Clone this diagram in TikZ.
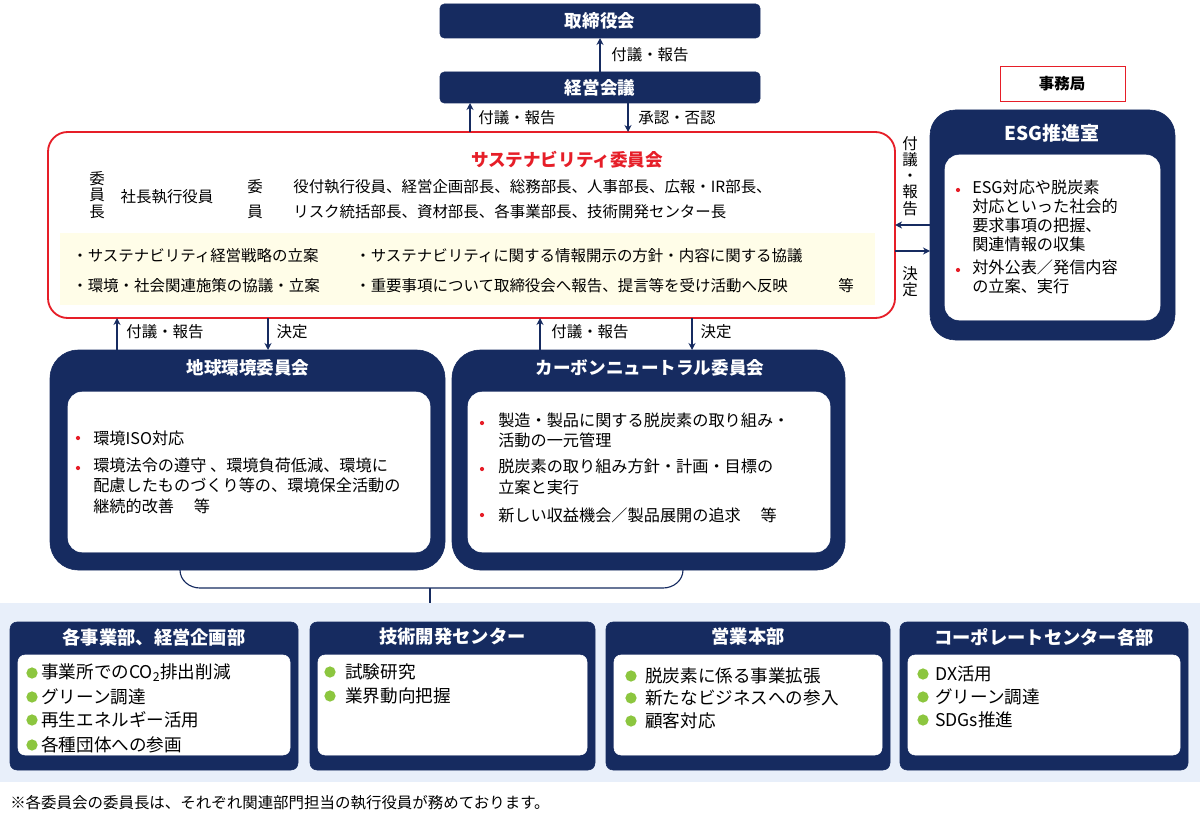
\documentclass[tikz,border=0pt]{standalone}
\usepackage{fontspec}
\setmainfont{Noto Sans CJK JP}
\usetikzlibrary{arrows.meta}
\definecolor{navy}{RGB}{22,43,96}
\definecolor{redline}{RGB}{230,30,40}
\definecolor{paleyellow}{RGB}{255,253,232}
\definecolor{paleblue}{RGB}{232,239,250}
\definecolor{leaf}{RGB}{140,198,63}
\tikzset{
  navybox/.style={fill=navy,draw=navy},
  title/.style={text=white,font=\fontsize{12.5}{14}\selectfont\bfseries},
  txt/.style={anchor=west,inner sep=0pt,font=\fontsize{11}{12}\selectfont},
  midtxt/.style={txt,align=left,anchor=north west,font=\fontsize{11.5}{14.3}\selectfont},
  bottxt/.style={txt,font=\fontsize{12.5}{14}\selectfont},
  lbl/.style={inner sep=1pt,font=\fontsize{11}{12}\selectfont},
  flow/.style={draw=navy,line width=0.9pt,-{Stealth[length=5pt,width=5pt]}},
  redbul/.style={circle,fill=redline,inner sep=0pt,minimum size=3pt},
  greenbul/.style={circle,fill=leaf,inner sep=0pt,minimum size=8pt}
}
\begin{document}
\begin{tikzpicture}[x=0.025cm,y=-0.025cm]
	\useasboundingbox (0,0) rectangle (1200,820);
	
	% top boxes
	\draw[navybox,rounded corners=3pt] (440,4) rectangle (760,38);
	\node[title] (board) at (600,21) {取締役会};
	\draw[navybox,rounded corners=3pt] (440,72) rectangle (760,103);
	\node[title] (mgmt) at (600,88) {経営会議};
	\coordinate (boardb) at (600,38);
	\coordinate (mgmtt) at (600,72);
	\draw[flow] (mgmtt) -- (boardb);
	\node[lbl] at (650,55) {付議・報告};
	
	% sustainability committee
	\draw[draw=redline,line width=1.3pt,fill=white,rounded corners=14pt] (48,132) rectangle (895,318);
	\fill[paleyellow] (60,233) rectangle (875,305);
	\node[text=redline,font=\fontsize{12.5}{14}\selectfont\bfseries] (sus) at (567,160) {サステナビリティ委員会};
	\node[lbl,align=center,font=\fontsize{11}{11.5}\selectfont] at (97,195) {委\\員\\長};
	\node[lbl] at (167,197) {社長執行役員};
	\node[lbl] at (255,187) {委};
	\node[lbl] at (255,212) {員};
	\node[txt] at (293,187) {役付執行役員、経営企画部長、総務部長、人事部長、広報・IR部長、};
	\node[txt] at (293,212) {リスク統括部長、資材部長、各事業部長、技術開発センター長};
	\node[txt] at (72,256) {・サステナビリティ経営戦略の立案};
	\node[txt] at (72,286) {・環境・社会関連施策の協議・立案};
	\node[txt] at (355,256) {・サステナビリティに関する情報開示の方針・内容に関する協議};
	\node[txt] at (355,286) {・重要事項について取締役会へ報告、提言等を受け活動へ反映};
	\node[txt] at (838,286) {等};
	
	\draw[flow] (470,132) -- (470,103);
	\node[lbl] at (517,118) {付議・報告};
	\draw[flow] (628,103) -- (628,132);
	\node[lbl] at (677,118) {承認・否認};
	
	% secretariat
	\draw[draw=redline,fill=white] (1000,66) rectangle (1125,101);
	\node[lbl,font=\fontsize{11}{12}\selectfont\bfseries] (sec) at (1062,84) {事務局};
	
	% ESG office
	\draw[navybox,rounded corners=18pt] (930,110) rectangle (1175,340);
	\node[title,font=\fontsize{13.5}{15}\selectfont\bfseries] (esg) at (1052,133) {ESG推進室};
	\draw[fill=white,draw=white,rounded corners=10pt] (945,155) rectangle (1160,320);
	\node[redbul] at (958,190) {};
	\node[midtxt,font=\fontsize{11.5}{13.4}\selectfont] at (972,180) {ESG対応や脱炭素\\対応といった社会的\\要求事項の把握、\\関連情報の収集};
	\node[redbul] at (958,270) {};
	\node[midtxt,font=\fontsize{11.5}{13.4}\selectfont] at (972,260) {対外公表／発信内容\\の立案、実行};
	\draw[flow] (930,225) -- (895,225);
	\draw[flow] (895,251) -- (930,251);
	\node[lbl,align=center,font=\fontsize{11}{11.5}\selectfont] at (910,176) {付\\議\\・\\報\\告};
	\node[lbl,align=center,font=\fontsize{11}{11.5}\selectfont] at (910,282) {決\\定};
	
	% global environment committee
	\draw[navybox,rounded corners=20pt] (50,350) rectangle (445,570);
	\node[title] (env) at (248,368) {地球環境委員会};
	\draw[fill=white,draw=white,rounded corners=10pt] (68,392) rectangle (430,552);
	\node[redbul] at (78,438) {};
	\node[txt,font=\fontsize{11.5}{13}\selectfont] at (93,438) {環境ISO対応};
	\node[redbul] at (78,468) {};
	\node[midtxt] at (93,458) {環境法令の遵守 、環境負荷低減、環境に\\配慮したものづくり等の、環境保全活動の\\継続的改善　 等};
	
	% carbon neutral committee
	\draw[navybox,rounded corners=20pt] (452,350) rectangle (845,570);
	\node[title] (cn) at (650,368) {カーボンニュートラル委員会};
	\draw[fill=white,draw=white,rounded corners=10pt] (468,392) rectangle (830,552);
	\node[redbul] at (482,423) {};
	\node[midtxt] at (498,413) {製造・製品に関する脱炭素の取り組み・\\活動の一元管理};
	\node[redbul] at (482,469) {};
	\node[midtxt] at (498,459) {脱炭素の取り組み方針・計画・目標の\\立案と実行};
	\node[redbul] at (482,515) {};
	\node[txt,font=\fontsize{11.5}{13}\selectfont] at (498,515) {新しい収益機会／製品展開の追求　 等};
	
	\draw[flow] (117,350) -- (117,318);
	\node[lbl] at (165,332) {付議・報告};
	\draw[flow] (268,318) -- (268,350);
	\node[lbl] at (292,332) {決定};
	\draw[flow] (540,350) -- (540,318);
	\node[lbl] at (590,332) {付議・報告};
	\draw[flow] (692,318) -- (692,350);
	\node[lbl] at (716,332) {決定};
	
	% bracket
	\coordinate (bl) at (180,570);
	\coordinate (br) at (683,570);
	\coordinate (bmid) at (430,588);
	\coordinate (bbot) at (430,603);
	\draw[navy,line width=0.8pt] (bl) to[out=-90,in=180] (200,588) -- (663,588) to[out=0,in=-90] (br);
	\draw[navy,line width=0.8pt] (bmid) -- (bbot);
	
	% departments
	\fill[paleblue] (0,603) rectangle (1200,782);
	\foreach \xa/\xb/\name/\ttl in {10/298/dept/各事業部、経営企画部,310/595/rnd/技術開発センター,606/890/sales/営業本部,900/1188/corp/コーポレートセンター各部}{
		\draw[navybox,rounded corners=5pt] (\xa,622) rectangle (\xb,770);
		\node[title,font=\fontsize{13}{15}\selectfont\bfseries] (\name) at ({(\xa+\xb)/2},637) {\ttl};
		\draw[fill=white,draw=white,rounded corners=5pt] (\xa+8,655) rectangle (\xb-8,755);
	}
	\foreach \y/\t in {673/事業所でのCO\textsubscript{2}排出削減,697/グリーン調達,720/再生エネルギー活用,745/各種団体への参画}{
		\node[greenbul] at (32,\y) {};
		\node[bottxt] at (41,\y) {\t};
	}
	\foreach \y/\t in {672/試験研究,696/業界動向把握}{
		\node[greenbul] at (330,\y) {};
		\node[bottxt] at (345,\y) {\t};
	}
	\foreach \y/\t in {676/脱炭素に係る事業拡張,698/新たなビジネスへの参入,721/顧客対応}{
		\node[greenbul] at (631,\y) {};
		\node[bottxt] at (645,\y) {\t};
	}
	\foreach \y/\t in {674/DX活用,697/グリーン調達,720/SDGs推進}{
		\node[greenbul] at (923,\y) {};
		\node[bottxt] at (935,\y) {\t};
	}
	
	\node[txt,font=\fontsize{11}{12}\selectfont] (note) at (10,803) {※各委員会の委員長は、それぞれ関連部門担当の執行役員が務めております。};
	
\end{tikzpicture}
\end{document}
